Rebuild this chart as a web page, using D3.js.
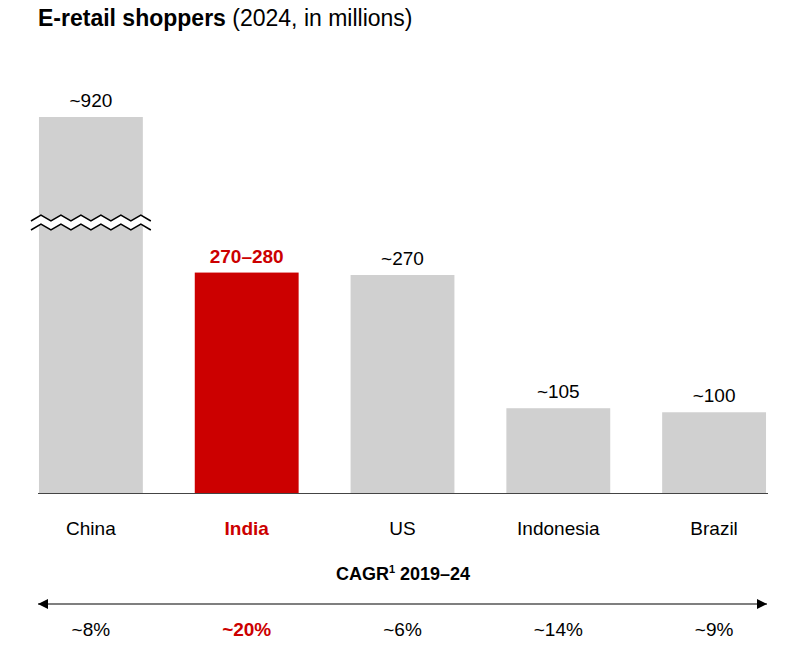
<!DOCTYPE html>
<html><head><meta charset="utf-8">
<script src="https://cdn.jsdelivr.net/npm/d3@7"></script>
<style>body{margin:0;background:#fff;font-family:Arial,"Liberation Sans",sans-serif}</style>
</head><body><svg id="c" width="800" height="649"></svg>
<script>
const categories = ["China","India","US","Indonesia","Brazil"];
const values = [920, 280, 270, 105, 100];
const valueLabels = ["~920","270–280","~270","~105","~100"];
const cagr = ["~8%","~20%","~6%","~14%","~9%"];
const highlight = "India";

const svg = d3.select("#c");
const x = d3.scaleBand().domain(categories).range([13,792]).paddingInner(1/3).paddingOuter(1/6);
// broken axis: piecewise linear scale
const y = d3.scaleLinear().domain([0,270,920]).range([493,275,117]);
const red = "#cc0000", grey = "#d0d0d0";

svg.append("text").attr("x",38).attr("y",26).attr("font-size",23).attr("fill","#000")
  .html('<tspan font-weight="bold">E-retail shoppers</tspan> (2024, in millions)');

svg.selectAll("rect.bar").data(categories).join("rect")
  .attr("x",d=>x(d)).attr("width",x.bandwidth())
  .attr("y",(d,i)=>y(values[i])).attr("height",(d,i)=>y(0)-y(values[i]))
  .attr("fill",d=>d===highlight?red:grey);

const bx0 = x("China")-8, bx1 = x("China")+x.bandwidth()+8;
function zig(y0){
  const pts=[]; const n=12; const w=(bx1-bx0)/n;
  for(let i=0;i<=n;i++) pts.push([bx0+i*w, y0+(i%2?-3:3)]);
  return pts;
}
const line=d3.line();
svg.append("path").attr("d",line(zig(218))+"L"+zig(227).reverse().map(p=>p.join(",")).join("L")+"Z")
  .attr("fill","#fff");
[218,227].forEach(yy=>svg.append("path").attr("d",line(zig(yy))).attr("fill","none").attr("stroke","#000").attr("stroke-width",1.5));

svg.append("line").attr("x1",38).attr("x2",768).attr("y1",493.5).attr("y2",493.5).attr("stroke","#444");

svg.selectAll("text.val").data(categories).join("text")
  .attr("x",d=>x(d)+x.bandwidth()/2).attr("y",(d,i)=>y(values[i])-10)
  .attr("text-anchor","middle").attr("font-size",19)
  .attr("font-weight",d=>d===highlight?"bold":"normal")
  .attr("fill",d=>d===highlight?red:"#000")
  .text((d,i)=>valueLabels[i]);

svg.selectAll("text.cat").data(categories).join("text")
  .attr("x",d=>x(d)+x.bandwidth()/2).attr("y",535)
  .attr("text-anchor","middle").attr("font-size",19)
  .attr("font-weight",d=>d===highlight?"bold":"normal")
  .attr("fill",d=>d===highlight?red:"#000").text(d=>d);

svg.append("text").attr("x",403).attr("y",580).attr("text-anchor","middle").attr("font-size",18).attr("font-weight","bold")
  .html('CAGR<tspan font-size="11" dy="-7">1</tspan><tspan dy="7"> 2019–24</tspan>');

const defs=svg.append("defs");
defs.append("marker").attr("id","ah").attr("viewBox","0 0 10 10").attr("refX",10).attr("refY",5)
  .attr("markerWidth",10).attr("markerHeight",10).attr("orient","auto-start-reverse").attr("markerUnits","userSpaceOnUse")
  .append("path").attr("d","M0,0L10,5L0,10Z").attr("fill","#000");
svg.append("line").attr("x1",38).attr("x2",767).attr("y1",604).attr("y2",604).attr("stroke","#000").attr("stroke-width",1.2)
  .attr("marker-start","url(#ah)").attr("marker-end","url(#ah)");

svg.selectAll("text.cagr").data(categories).join("text")
  .attr("x",d=>x(d)+x.bandwidth()/2).attr("y",636)
  .attr("text-anchor","middle").attr("font-size",19)
  .attr("font-weight",d=>d===highlight?"bold":"normal")
  .attr("fill",d=>d===highlight?red:"#000").text((d,i)=>cagr[i]);
</script></body></html>
